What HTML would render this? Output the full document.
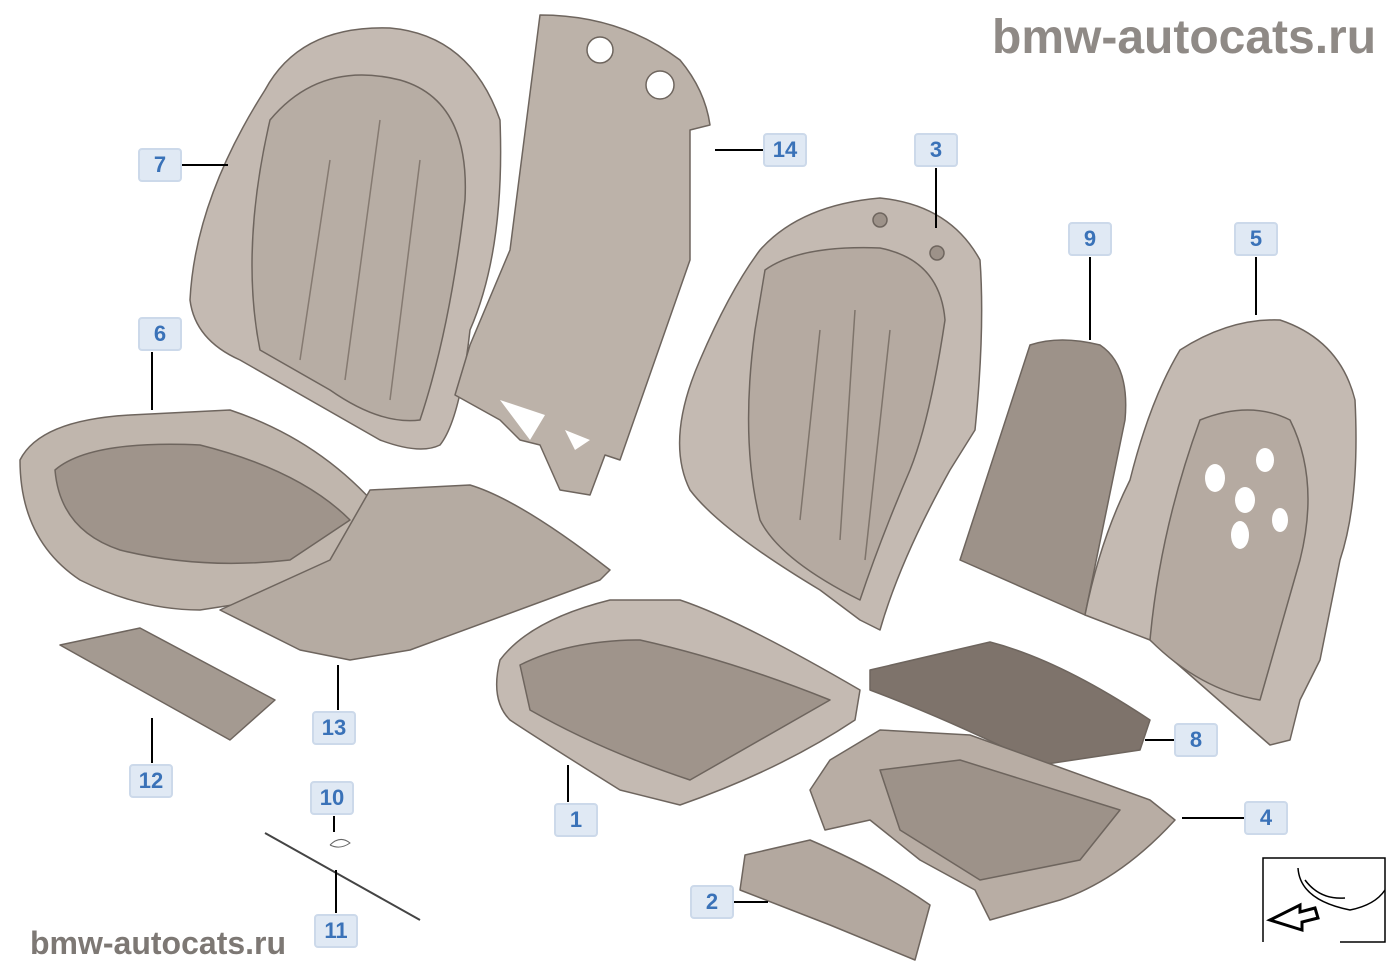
<!DOCTYPE html>
<html><head><meta charset="utf-8"><style>
body{margin:0;background:#fff;width:1400px;height:980px;overflow:hidden;font-family:"Liberation Sans",sans-serif}
.l{position:absolute;width:44px;height:34px;background:#e0e9f4;border:2px solid #ccd9ea;border-radius:4px;color:#3a72b8;font-weight:bold;font-size:22px;text-align:center;box-sizing:border-box;line-height:30px}
.w{position:absolute;color:#8f8a86;font-weight:bold;white-space:nowrap}
</style></head><body>
<svg width="1400" height="980" style="position:absolute;left:0;top:0">
<g stroke="#6e655e" stroke-width="1.5" stroke-linejoin="round">
<path d="M265,90 Q300,25 390,28 Q470,35 500,120 Q505,250 470,330 Q460,420 440,445 Q420,455 380,440 L240,360 Q195,340 190,300 Q195,200 265,90Z" fill="#c4bab2"/>
<path d="M270,120 Q320,60 400,80 Q470,100 465,200 Q450,330 420,420 Q380,425 330,390 L260,350 Q240,250 270,120Z" fill="#b7ada4"/>
<path d="M300,360 L330,160 M345,380 L380,120 M390,400 L420,160" stroke="#857a71" fill="none"/>
<path d="M540,15 Q620,15 680,60 Q705,90 710,125 L690,130 L690,260 L620,460 L605,455 L590,495 L560,490 L540,445 L520,440 L500,420 L455,395 L470,345 L510,250 Z" fill="#bcb2a9"/>
<circle cx="600" cy="50" r="13" fill="#fff"/><circle cx="660" cy="85" r="14" fill="#fff"/>
<path d="M500,400 L545,415 L530,440 Z M565,430 L590,440 L575,450 Z" fill="#fff" stroke="none"/>
<path d="M20,460 Q40,420 130,415 L230,410 Q320,440 380,510 Q390,560 330,590 L200,610 Q140,610 80,580 Q20,540 20,460Z" fill="#c0b6ad"/>
<path d="M55,470 Q90,440 200,445 Q300,470 350,520 L290,560 Q200,570 120,550 Q60,530 55,470Z" fill="#9f948b"/>
<path d="M370,490 L470,485 Q520,500 610,570 L600,580 L410,650 L350,660 L300,650 L220,610 L330,560Z" fill="#b5aba2"/>
<path d="M60,645 L140,628 L275,700 L230,740 Z" fill="#a49a91"/>
<path d="M760,250 Q800,205 880,198 Q950,205 980,260 Q985,330 975,430 L950,470 Q900,560 880,630 L860,620 L820,590 Q720,530 690,490 Q665,440 700,360 Q730,290 760,250Z" fill="#c4bab2"/>
<path d="M765,270 Q800,245 880,248 Q940,260 945,320 Q930,420 910,470 Q880,540 860,600 Q780,560 760,520 Q740,440 755,330Z" fill="#b5aaa1"/>
<path d="M800,520 L820,330 M840,540 L855,310 M865,560 L890,330" stroke="#7e746b" fill="none"/>
<circle cx="880" cy="220" r="7" fill="#9d9289"/><circle cx="937" cy="253" r="7" fill="#9d9289"/>
<path d="M1030,345 Q1060,335 1100,345 Q1130,365 1125,420 L1085,615 L960,560 Z" fill="#9d9289"/>
<path d="M1180,350 Q1230,318 1280,320 Q1340,340 1355,400 Q1360,500 1340,560 L1320,660 L1300,700 L1290,740 L1270,745 L1150,640 L1085,615 Q1100,540 1130,480 Q1150,400 1180,350Z" fill="#c4bab2"/>
<path d="M1200,420 Q1250,400 1290,420 Q1320,480 1300,560 L1260,700 Q1200,690 1150,640 Q1160,530 1200,420Z" fill="#b5aaa1"/>
<g fill="#fff" stroke="none"><ellipse cx="1215" cy="478" rx="10" ry="14"/><ellipse cx="1265" cy="460" rx="9" ry="12"/><ellipse cx="1245" cy="500" rx="10" ry="13"/><ellipse cx="1240" cy="535" rx="9" ry="14"/><ellipse cx="1280" cy="520" rx="8" ry="12"/></g>
<path d="M500,660 Q530,620 610,600 L680,600 Q740,620 860,690 L855,720 Q780,770 680,805 L620,790 Q540,740 510,720 Q490,700 500,660Z" fill="#c4bab2"/>
<path d="M520,665 Q570,640 640,640 Q730,660 830,700 Q760,740 690,780 Q600,750 530,710Z" fill="#9f948b"/>
<path d="M870,670 L990,642 Q1060,660 1150,720 L1140,750 L1040,765 Q950,720 870,690Z" fill="#7e736b"/>
<path d="M830,760 L880,730 L970,735 L1150,800 L1175,820 Q1120,880 1060,900 L990,920 L975,890 L920,860 L870,820 L825,830 L810,790Z" fill="#b8ada4"/>
<path d="M880,770 L960,760 L1120,810 L1080,860 L980,880 L900,830Z" fill="#9d9289"/>
<path d="M745,855 L810,840 Q880,870 930,905 L915,960 L830,925 L740,890Z" fill="#b3a89f"/>
</g>
<line x1="265" y1="833" x2="420" y2="920" stroke="#444" stroke-width="2"/>
<path d="M330,845 Q340,835 350,843 Q340,850 330,845" fill="none" stroke="#666"/>
<g stroke="#000" stroke-width="2">
<line x1="182" y1="165" x2="228" y2="165"/><line x1="715" y1="150" x2="763" y2="150"/>
<line x1="936" y1="168" x2="936" y2="228"/><line x1="1090" y1="257" x2="1090" y2="340"/>
<line x1="1256" y1="257" x2="1256" y2="315"/><line x1="152" y1="352" x2="152" y2="410"/>
<line x1="338" y1="710" x2="338" y2="665"/><line x1="152" y1="763" x2="152" y2="718"/>
<line x1="334" y1="816" x2="334" y2="832"/><line x1="336" y1="913" x2="336" y2="870"/>
<line x1="568" y1="802" x2="568" y2="765"/><line x1="734" y1="902" x2="768" y2="902"/>
<line x1="1174" y1="740" x2="1145" y2="740"/><line x1="1244" y1="818" x2="1182" y2="818"/>
</g>
<g fill="none" stroke="#000" stroke-width="1.5">
<path d="M1263,942 L1263,858 L1385,858 L1385,942 L1340,942"/>
<path d="M1298,868 Q1300,900 1350,910 Q1375,905 1385,890 M1305,880 Q1320,900 1345,898"/>
<path d="M1270,920 L1300,905 L1300,912 L1315,908 L1318,918 L1302,922 L1302,930 Z" stroke-width="3"/>
</g>
</svg>
<div class="w" style="left:992px;top:10px;font-size:48px">bmw-autocats.ru</div>
<div class="w" style="left:30px;top:925px;font-size:32px;color:#7d7874">bmw-autocats.ru</div>
<div class="l" style="left:138px;top:148px">7</div>
<div class="l" style="left:763px;top:133px">14</div>
<div class="l" style="left:914px;top:133px">3</div>
<div class="l" style="left:1068px;top:222px">9</div>
<div class="l" style="left:1234px;top:222px">5</div>
<div class="l" style="left:138px;top:317px">6</div>
<div class="l" style="left:312px;top:711px">13</div>
<div class="l" style="left:129px;top:764px">12</div>
<div class="l" style="left:310px;top:781px">10</div>
<div class="l" style="left:314px;top:914px">11</div>
<div class="l" style="left:554px;top:803px">1</div>
<div class="l" style="left:690px;top:885px">2</div>
<div class="l" style="left:1174px;top:723px">8</div>
<div class="l" style="left:1244px;top:801px">4</div>
</body></html>
